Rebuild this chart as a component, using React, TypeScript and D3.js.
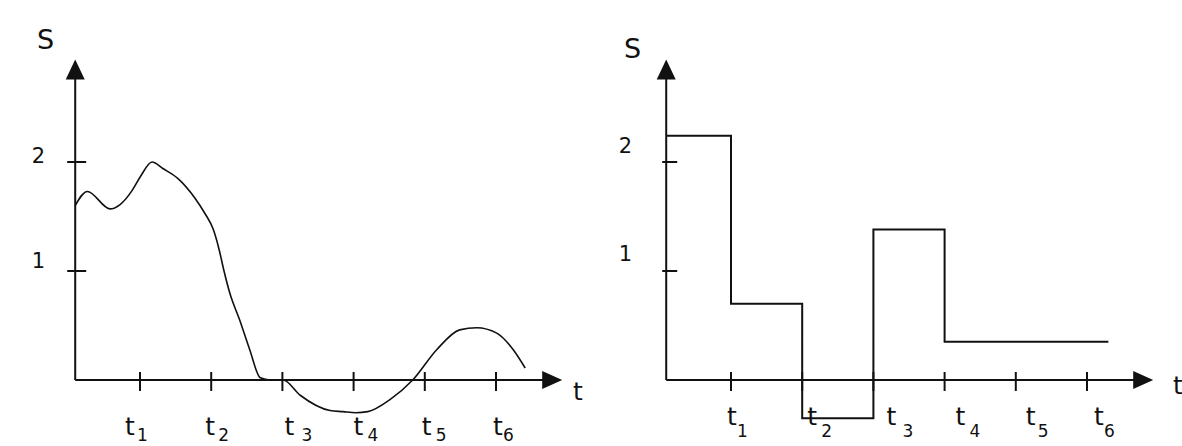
import React, { useEffect, useRef } from 'react';
import * as d3 from 'd3';

// tick positions on the t axis (t1..t6) and on the S axis
const tTicks = [1, 2, 3, 4, 5, 6];
const tTickLabels = ['1', '2', '3', '4', '5', '6'];
const sTicks = [1, 2];
const sTickLabels = ['1', '2'];

// left panel: continuous signal S(t)
const curveT = [0.09, 0.26, 0.58, 0.72, 0.89, 1.0, 1.17, 1.32, 1.53, 1.77, 1.91, 2.03, 2.11, 2.18, 2.26, 2.4, 2.54, 2.69, 2.83, 3.01, 3.25, 3.67, 3.85, 4.03, 4.2, 4.51, 4.83, 5.17, 5.49, 5.73, 6.01, 6.24, 6.41];
const curveS = [1.6, 1.73, 1.57, 1.61, 1.74, 1.86, 2.0, 1.94, 1.85, 1.67, 1.53, 1.38, 1.2, 1.0, 0.8, 0.55, 0.28, 0.02, 0.0, 0.0, -0.14, -0.28, -0.29, -0.3, -0.29, -0.18, 0.0, 0.28, 0.46, 0.48, 0.43, 0.28, 0.11];

// right panel: sampled / held signal (step after each t)
const stepT = [0.09, 1, 2, 3, 4, 6.3];
const stepS = [2.24, 0.7, -0.35, 1.38, 0.35, 0.35];

// axis extents in data units
const T0 = 0.09;
const T_END = 6.93;
const S_END = 2.94;

const FONT = '"DejaVu Sans", Verdana, sans-serif';
const INK = '#111';

// per panel layout tweaks (label nudges)
const panels = [
  {
    dx: 0,
    kind: 'curve',
    sLabel: { x: 45.5, y: 49 },
    sTickLabelY: [268, 163],
    sTickLabelRight: 45,
    yTick: [-8, 11],
    tLabelDx: [-15, -6, 2, 0, -3, -3],
    tSubGap: [12, 13, 17, 14, 14, 10],
    tBase: 435,
    tSubBase: 441,
    axisT: { x: 573, y: 400 },
  },
  {
    dx: 591,
    kind: 'step',
    sLabel: { x: 41.5, y: 58 },
    sTickLabelY: [261, 153],
    sTickLabelRight: 41,
    yTick: [-4, 11],
    tLabelDx: [-4, 5, 13, 11, 10, 7],
    tSubGap: [10, 14, 16, 14, 12, 10],
    tBase: 425,
    tSubBase: 437,
    axisT: { x: 582, y: 394 },
  },
];

const App = () => {
  const ref = useRef<SVGSVGElement | null>(null);

  useEffect(() => {
    if (!ref.current) return;
    const svg = d3.select(ref.current);
    svg.selectAll('*').remove();

    const x = d3.scaleLinear().domain([1, 6]).range([140, 496]);
    const y = d3.scaleLinear().domain([0, 2]).range([380, 162]);

    panels.forEach((p) => {
      const g = svg.append('g').attr('transform', `translate(${p.dx},0)`);
      const ox = x(T0);
      const oy = y(0);

      // signal
      if (p.kind === 'curve') {
        const pts: [number, number][] = curveT.map((t, i) => [t, curveS[i]]);
        const line = d3
          .line<[number, number]>()
          .x((d) => x(d[0]))
          .y((d) => y(d[1]))
          .curve(d3.curveMonotoneX);
        g.append('path')
          .attr('d', line(pts))
          .attr('fill', 'none')
          .attr('stroke', INK)
          .attr('stroke-width', 1.6);
      } else {
        const pts: [number, number][] = stepT.map((t, i) => [t, stepS[i]]);
        const line = d3
          .line<[number, number]>()
          .x((d) => x(d[0]))
          .y((d) => y(d[1]))
          .curve(d3.curveStepAfter);
        g.append('path')
          .attr('d', line(pts))
          .attr('fill', 'none')
          .attr('stroke', INK)
          .attr('stroke-width', 2);
      }

      // axes
      g.append('line')
        .attr('x1', ox)
        .attr('x2', x(T_END) - 10)
        .attr('y1', oy)
        .attr('y2', oy)
        .attr('stroke', INK)
        .attr('stroke-width', 2);
      g.append('line')
        .attr('x1', ox)
        .attr('x2', ox)
        .attr('y1', oy)
        .attr('y2', y(S_END) + 10)
        .attr('stroke', INK)
        .attr('stroke-width', 2);

      // arrow heads
      const xt = x(T_END);
      g.append('path')
        .attr('d', `M${xt},${oy} L${xt - 20},${oy - 9} L${xt - 20},${oy + 9} Z`)
        .attr('fill', INK);
      const yt = y(S_END);
      g.append('path')
        .attr('d', `M${ox},${yt} L${ox - 9.5},${yt + 20} L${ox + 9.5},${yt + 20} Z`)
        .attr('fill', INK);

      // t ticks
      g.selectAll('.tt')
        .data(tTicks)
        .enter()
        .append('line')
        .attr('x1', (d) => x(d))
        .attr('x2', (d) => x(d))
        .attr('y1', oy - 8)
        .attr('y2', oy + 11)
        .attr('stroke', INK)
        .attr('stroke-width', 2);

      // S ticks
      g.selectAll('.st')
        .data(sTicks)
        .enter()
        .append('line')
        .attr('x1', ox + p.yTick[0])
        .attr('x2', ox + p.yTick[1])
        .attr('y1', (d) => y(d))
        .attr('y2', (d) => y(d))
        .attr('stroke', INK)
        .attr('stroke-width', 2);

      // S tick labels
      sTickLabels.forEach((lab, i) => {
        g.append('text')
          .attr('x', p.sTickLabelRight)
          .attr('y', p.sTickLabelY[i])
          .attr('text-anchor', 'end')
          .attr('font-family', FONT)
          .attr('font-size', 21)
          .attr('fill', INK)
          .text(lab);
      });

      // t_k labels with subscripts
      tTicks.forEach((t, i) => {
        const lx = x(t) + p.tLabelDx[i];
        g.append('text')
          .attr('x', lx)
          .attr('y', p.tBase)
          .attr('font-family', FONT)
          .attr('font-size', 25)
          .attr('fill', INK)
          .text('t');
        g.append('text')
          .attr('x', lx + p.tSubGap[i])
          .attr('y', p.tSubBase)
          .attr('font-family', FONT)
          .attr('font-size', 17)
          .attr('fill', INK)
          .text(tTickLabels[i]);
      });

      // axis names
      g.append('text')
        .attr('x', p.sLabel.x)
        .attr('y', p.sLabel.y)
        .attr('text-anchor', 'middle')
        .attr('font-family', FONT)
        .attr('font-size', 27)
        .attr('fill', INK)
        .text('S');
      g.append('text')
        .attr('x', p.axisT.x)
        .attr('y', p.axisT.y)
        .attr('font-family', FONT)
        .attr('font-size', 25)
        .attr('fill', INK)
        .text('t');
    });
  }, []);

  return (
    <svg
      ref={ref}
      width={1182}
      height={446}
      style={{ position: 'absolute', left: 0, top: 0, background: '#fff' }}
    />
  );
};

export default App;
